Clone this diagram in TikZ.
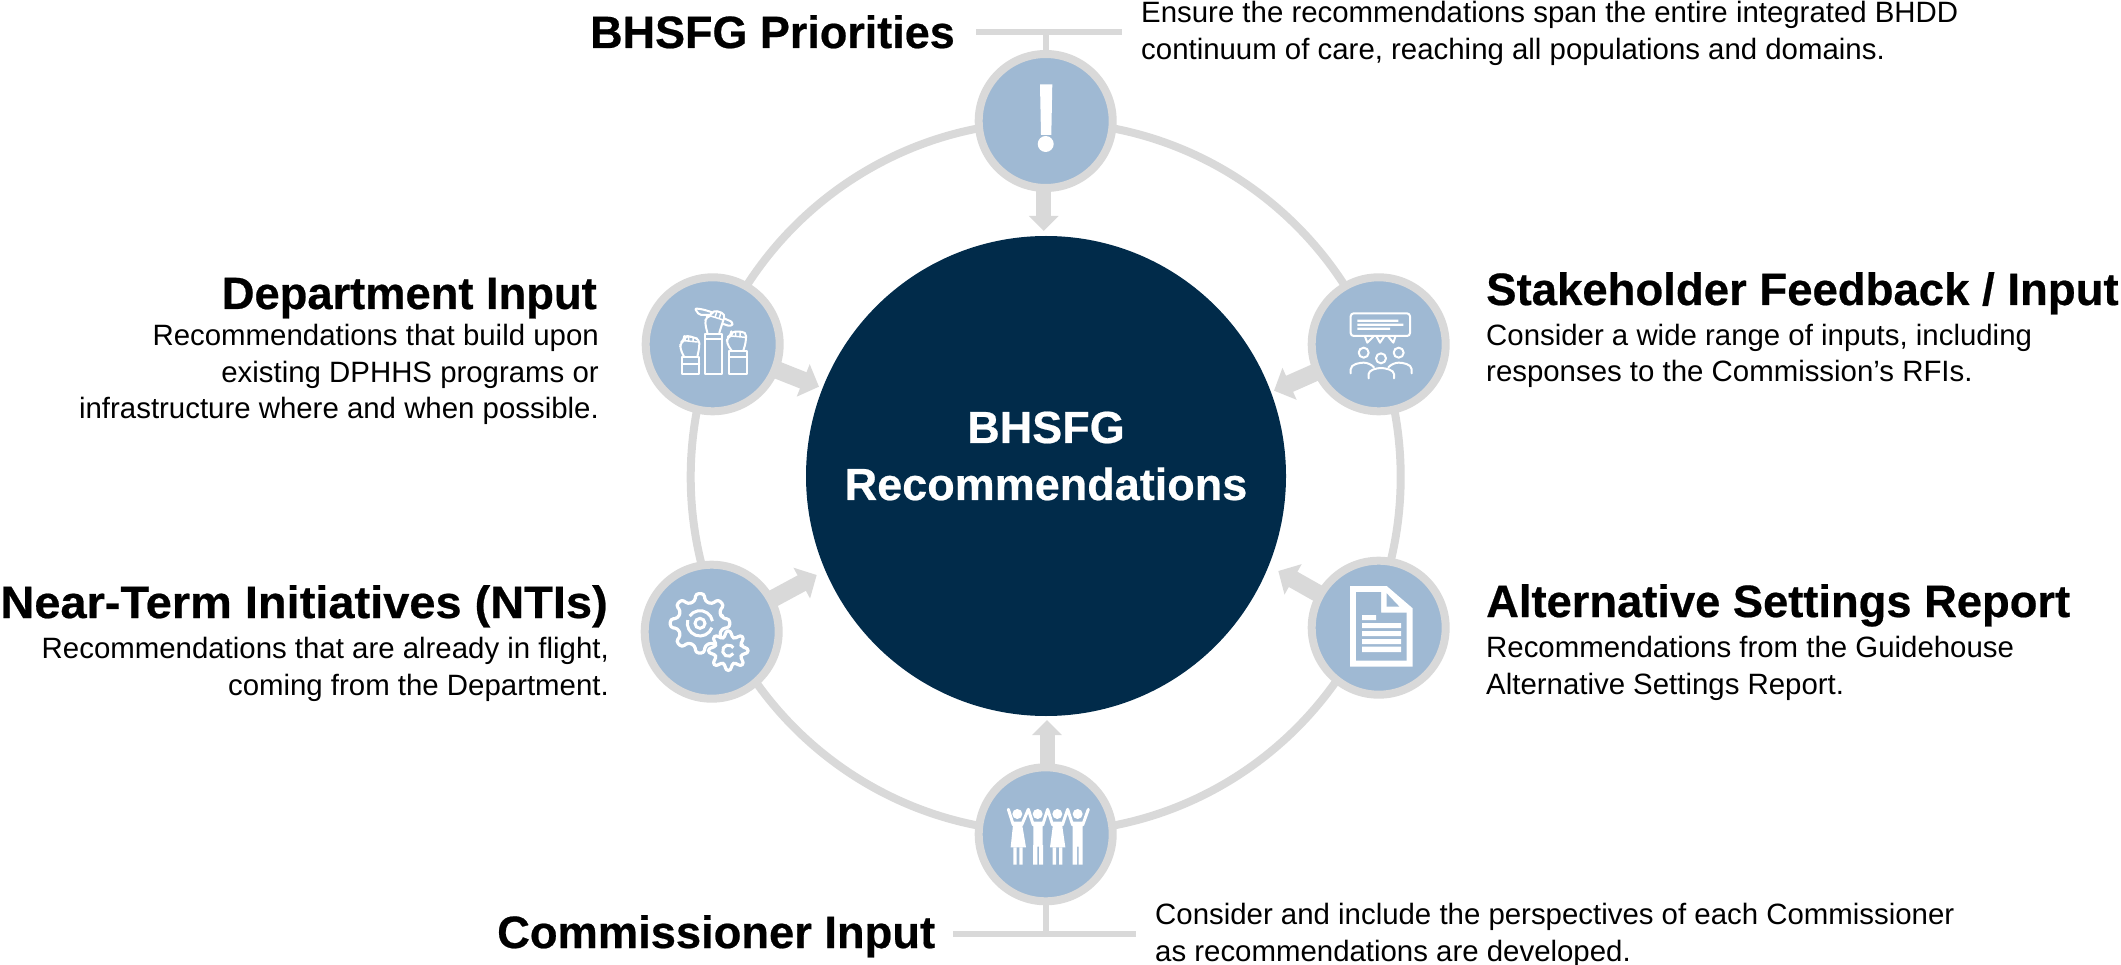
\documentclass[tikz,border=0pt]{standalone}
\usepackage{fontspec}
\setmainfont[BoldFeatures={FakeBold=0.5}]{Liberation Sans}
\usetikzlibrary{arrows.meta,backgrounds}
\definecolor{ringgray}{HTML}{D9D9D9}
\definecolor{iconblue}{HTML}{9FB9D3}
\definecolor{navy}{HTML}{012B4A}
\tikzset{
  hub/.style={circle,draw=ringgray,line width=8pt,fill=iconblue,minimum size=134pt,inner sep=0pt},
  flow/.style={draw=ringgray,line width=15pt,-{Triangle[width=29pt,length=15pt]}},
  flowbig/.style={draw=ringgray,line width=17.5pt,-{Triangle[width=34pt,length=17pt]}},
  bar/.style={draw=ringgray,line width=6pt},
  headline/.style={inner sep=0pt,font=\fontsize{45.3}{52}\selectfont\bfseries},
  bodytext/.style={inner sep=0pt,font=\fontsize{29.4}{36.5}\selectfont},
  ico/.style={draw=white,line width=2pt,line join=round,line cap=round},
  zoomed/.style={shift={(#1)},scale=1/3},
}
\newcommand{\gearshape}[4]{%
  \begin{scope}[shift={(#1,#2)}]
  \filldraw[draw=white,fill=iconblue,line width=3.2pt,line join=round,rounded corners=3pt]
    (-13:#4) \foreach \a in {0,45,...,315}{ -- (\a-13:#4) -- (\a-8:#3) -- (\a+8:#3) -- (\a+13:#4)} -- cycle;
  \end{scope}}
\begin{document}
\begin{tikzpicture}[x=1pt,y=-1pt]
\useasboundingbox (0,0) rectangle (2121,965);
% ring and hubs
\node[circle,draw=ringgray,line width=8pt,minimum size=710pt,inner sep=0pt] (ring) at (1045.7,477) {};
\node[hub] (top) at (1045.7,121) {};
\node[hub] (dept) at (712.7,344.3) {};
\node[hub] (nti) at (711.7,631.7) {};
\node[hub] (stake) at (1378.7,344.3) {};
\node[hub] (alt) at (1378.7,627.7) {};
\node[hub] (bottom) at (1045.7,834.3) {};
\node[circle,fill=navy,minimum size=480pt,inner sep=0pt] (core) at (1046,476) {};
\node[inner sep=0pt,text=white,align=center,font=\fontsize{45}{57}\selectfont\bfseries] (corelabel) at (1046,456) {BHSFG\\Recommendations};
% free ends
\coordinate (t1) at (1043.7,231);
\coordinate (t2) at (819,386.7);
\coordinate (t3) at (816.7,575);
\coordinate (t4) at (1274,390.7);
\coordinate (t5) at (1278.3,571);
\coordinate (t6) at (1047,720);
\coordinate (topL) at (976,32);
\coordinate (topR) at (1121.7,32);
\coordinate (topM) at (1045.7,32);
\coordinate (botL) at (953,933.7);
\coordinate (botR) at (1136,933.7);
\coordinate (botM) at (1045.7,933.7);
\begin{pgfonlayer}{background}
\draw[flow] (1043.7,150) -- (t1);
\draw[flowbig] (dept.center) -- (t2);
\draw[flowbig] (nti.center) -- (t3);
\draw[flowbig] (stake.center) -- (t4);
\draw[flowbig] (alt.center) -- (t5);
\draw[flow] (1047,800) -- (t6);
\draw[bar] (top.center) -- (topM);
\draw[bar] (bottom.center) -- (botM);
\draw[bar] (topL) -- (topR);
\draw[bar] (botL) -- (botR);
\end{pgfonlayer}
% texts
\node[headline,anchor=base west,xscale=0.992,transform shape] (h1) at (590,48) {BHSFG Priorities};
\node[bodytext,anchor=base west,align=left] (b1) at (1141,59.5) {Ensure the recommendations span the entire integrated BHDD\\continuum of care, reaching all populations and domains.};
\node[headline,anchor=base east] (h2) at (597,309) {Department Input};
\node[bodytext,anchor=base east,align=right] (b2) at (599,419) {Recommendations that build upon\\existing DPHHS programs or\\infrastructure where and when possible.};
\node[headline,anchor=base east,xscale=1.037,transform shape] (h3) at (608,618) {Near-Term Initiatives (NTIs)};
\node[bodytext,anchor=base east,align=right] (b3) at (609,695) {Recommendations that are already in flight,\\coming from the Department.};
\node[headline,anchor=base west,xscale=1.005,transform shape] (h4) at (1486,305) {Stakeholder Feedback / Input};
\node[bodytext,anchor=base west,align=left] (b4) at (1486,382) {Consider a wide range of inputs, including\\responses to the Commission’s RFIs.};
\node[headline,anchor=base west] (h5) at (1486,617) {Alternative Settings Report};
\node[bodytext,anchor=base west,align=left] (b5) at (1486,694) {Recommendations from the Guidehouse\\Alternative Settings Report.};
\node[headline,anchor=base west] (h6) at (497,948) {Commissioner Input};
\node[bodytext,anchor=base west,align=left] (b6) at (1155,961) {Consider and include the perspectives of each Commissioner\\as recommendations are developed.};
% exclamation icon
\fill[white] (1040,84.3) -- (1052.3,84.3) -- (1051.3,135) -- (1041,135) -- cycle;
\fill[white] (1045.7,144) circle (8);
% fists icon
\begin{scope}[zoomed={620,260}]
\draw[ico] (187,290) rectangle (238,342) (187,312) -- (238,312);
\draw[ico,rounded corners=4pt] (192,290) -- (180,265) -- (182,248) -- (193,240) -- (193,230) -- (205,228) -- (220,232) -- (238,238) -- (238,262) -- (232,290);
\draw[ico,line width=1.5pt] (193,242) -- (232,246) (206,230) -- (206,243) (219,233) -- (219,245);
\draw[ico] (256,222) rectangle (305,342) (256,238) -- (305,238);
\draw[ico,rounded corners=4pt] (262,218) -- (255,190) -- (258,170) -- (272,168) -- (280,150) -- (316,162) -- (305,196) -- (298,218);
\draw[ico,line width=1.5pt] (291,153) -- (285,172) (303,158) -- (297,176) (272,168) -- (310,180);
\draw[ico,rounded corners=2pt] (272,165) -- (238,165) -- (224,145) -- (248,148) -- (277,157);
\draw[ico,rounded corners=3pt] (314,176) -- (340,187) -- (334,200) -- (310,192);
\draw[ico] (328,272) rectangle (380,342) (328,292) -- (380,292);
\draw[ico,rounded corners=4pt] (335,272) -- (320,250) -- (322,232) -- (334,226) -- (334,214) -- (378,216) -- (378,245) -- (370,272);
\draw[ico,line width=1.5pt] (334,228) -- (376,232) (347,215) -- (347,228) (360,215) -- (360,229);
\end{scope}
% gears icon
\begin{scope}[zoomed={620,540}]
\gearshape{240}{250}{90}{68}
\draw[white,line width=3pt] (240,250) circle (15);
\draw[white,line width=3pt] ([shift={(240,250)}]20:38) arc[start angle=20,end angle=195,radius=38];
\draw[white,line width=3pt] ([shift={(240,250)}]215:38) arc[start angle=215,end angle=350,radius=38];
\gearshape{325}{332}{60}{42}
\draw[white,line width=3pt] ([shift={(325,332)}]30:17) arc[start angle=30,end angle=330,radius=17];
\end{scope}
% audience icon
\begin{scope}[zoomed={1270,260}]
\draw[ico,rounded corners=3pt] (242,160) rectangle (420,228);
\fill[white] (262,179) rectangle (385,186) (262,191) rectangle (400,198) (262,203) rectangle (360,210);
\draw[ico,line cap=butt] (285,230) -- (292,248) -- (310,230) (320,230) -- (330,248) -- (342,230) (355,230) -- (370,248) -- (376,230);
\draw[ico] (281,278) circle (15) (386,278) circle (15) (333,295) circle (15);
\draw[ico] (242,340) -- (242,328) .. controls (242,312) and (270,308) .. (281,308) .. controls (292,308) and (305,314) .. (312,322);
\draw[ico] (425,340) -- (425,328) .. controls (425,312) and (397,308) .. (386,308) .. controls (375,308) and (362,314) .. (355,322);
\draw[ico] (296,355) -- (296,342) .. controls (296,330) and (320,324) .. (333,324) .. controls (346,324) and (372,330) .. (372,342) -- (372,355);
\end{scope}
% document icon
\begin{scope}[zoomed={1270,540}]
\fill[white] (240,138) -- (350,138) -- (428,205) -- (428,380) -- (240,380) -- cycle;
\fill[iconblue] (258,156) -- (333,156) -- (333,218) -- (410,218) -- (410,362) -- (258,362) -- cycle;
\fill[iconblue] (350,160) -- (388,200) -- (350,200) -- cycle;
\fill[white] (276,225) rectangle (318,240) (276,249) rectangle (393,264) (276,273) rectangle (393,288) (276,297) rectangle (393,312) (276,320) rectangle (393,336);
\end{scope}
% people icon
\begin{scope}[zoomed={900,710}]
\fill[white] (352,312) circle (15) (413,312) circle (15) (472,312) circle (15) (533,312) circle (15);
\draw[white,line width=3pt,line cap=round] (325,298) -- (340,345) (385,298) -- (365,345) (385,298) -- (400,345) (443,298) -- (428,345) (443,298) -- (458,345) (503,298) -- (487,345) (503,298) -- (518,345) (565,298) -- (548,345);
\fill[white] (340,335) -- (365,335) -- (378,412) -- (332,412) -- cycle;
\fill[white] (340,412) rectangle (350,464) (358,412) rectangle (368,464);
\fill[white] (400,335) rectangle (428,410) (399,405) rectangle (412,464) (417,405) rectangle (429,464);
\fill[white] (460,335) -- (485,335) -- (496,412) -- (450,412) -- cycle;
\fill[white] (458,412) rectangle (468,464) (477,412) rectangle (487,464);
\fill[white] (518,335) rectangle (548,410) (518,405) rectangle (531,464) (536,405) rectangle (548,464);
\end{scope}
\end{tikzpicture}
\end{document}
